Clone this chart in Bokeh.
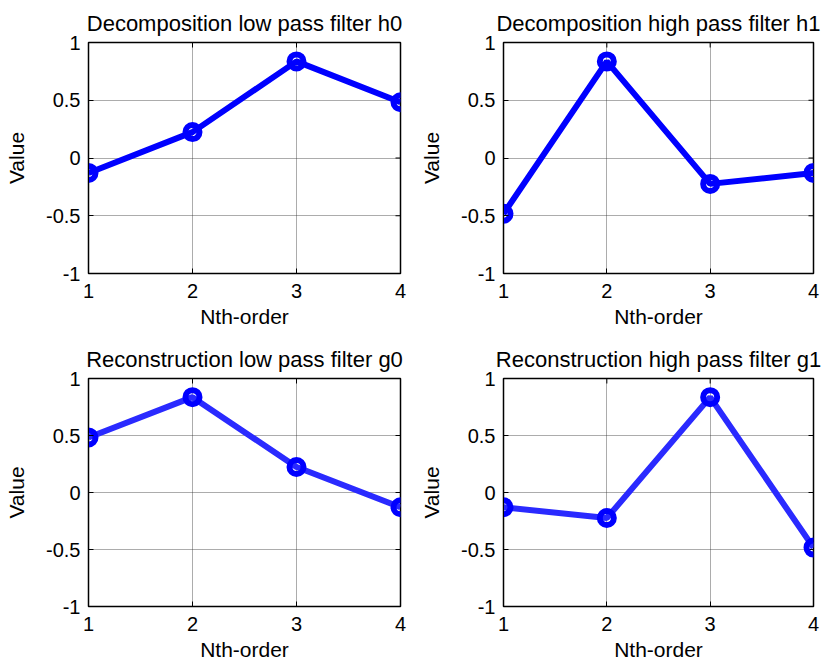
import math
from bokeh.plotting import figure
from bokeh.layouts import column, row
from bokeh.models import FixedTicker, Range1d
from bokeh.embed import file_html
from bokeh.resources import INLINE

# ---- data ----
n_order = [1, 2, 3, 4]
h0 = [-0.1294, 0.2241, 0.8365, 0.4830]
h1 = [-0.4830, 0.8365, -0.2241, -0.1294]
g0 = [0.4830, 0.8365, 0.2241, -0.1294]
g1 = [-0.1294, -0.2241, 0.8365, -0.4830]
titles = ["Decomposition low pass filter h0", "Decomposition high pass filter h1",
          "Reconstruction low pass filter g0", "Reconstruction high pass filter g1"]
x_ticks = [1, 2, 3, 4]
y_ticks = [-1, -0.5, 0, 0.5, 1]
y_tick_labels = {-1: "-1", -0.5: "-0.5", 0: "0", 0.5: "0.5", 1: "1"}
x_label = "Nth-order"
y_label = "Value"

FONT = "Liberation Sans"


def make(title, ys, fw, fh, bl, br, bt, bb, line_color, marker_color):
    x_lo, x_hi = x_ticks[0], x_ticks[-1]
    y_lo, y_hi = y_ticks[0], y_ticks[-1]
    p = figure(frame_width=fw, frame_height=fh, output_backend="svg", toolbar_location=None,
               x_range=Range1d(x_lo, x_hi), y_range=Range1d(y_lo, y_hi),
               min_border_left=bl, min_border_right=br, min_border_top=bt, min_border_bottom=bb,
               background_fill_color="white", border_fill_color="white")
    p.title.text = title
    p.title.align = "center"
    p.title.text_font = FONT
    p.title.text_font_size = "22px"
    p.title.text_font_style = "normal"
    p.title.text_color = "black"
    p.title.standoff = 14
    p.outline_line_color = "black"
    p.outline_line_width = 1.5
    p.outline_line_alpha = 1

    for ax in (p.xaxis[0], p.yaxis[0]):
        ax.major_tick_in = 5
        ax.major_tick_out = 0
        ax.minor_tick_line_color = None
        ax.axis_line_color = "black"
        ax.major_label_text_font = FONT
        ax.major_label_text_font_size = "20px"
        ax.major_label_text_color = "black"
        ax.axis_label_text_font = FONT
        ax.axis_label_text_font_size = "21px"
        ax.axis_label_text_font_style = "normal"
        ax.axis_label_text_color = "black"
    p.xaxis[0].ticker = FixedTicker(ticks=x_ticks)
    p.yaxis[0].ticker = FixedTicker(ticks=y_ticks)
    p.yaxis[0].major_label_overrides = y_tick_labels
    p.xaxis[0].axis_label = x_label
    p.yaxis[0].axis_label = y_label
    p.xaxis[0].major_label_standoff = 10
    p.xaxis[0].axis_label_standoff = 4
    p.yaxis[0].major_label_standoff = 8
    p.yaxis[0].axis_label_standoff = 15

    # inward ticks on the top and right edges of the box
    p.ray(x=x_ticks, y=[y_hi] * len(x_ticks), length=5, length_units="screen",
          angle=-math.pi / 2, line_color="black", line_width=1)
    p.ray(x=[x_hi] * len(y_ticks), y=y_ticks, length=5, length_units="screen",
          angle=math.pi, line_color="black", line_width=1)

    for g in (p.xgrid[0], p.ygrid[0]):
        g.grid_line_color = "#303030"
        g.grid_line_dash = "1 1"
        g.grid_line_width = 1
        g.grid_line_alpha = 0.8
    p.xgrid[0].ticker = FixedTicker(ticks=x_ticks)
    p.ygrid[0].ticker = FixedTicker(ticks=y_ticks)

    p.line(n_order, ys, line_color=line_color, line_width=6)
    p.scatter(n_order, ys, marker="circle", size=14, line_width=6,
              line_color=marker_color, fill_alpha=0)
    return p


p1 = make(titles[0], h0, 312, 231, 88, 11, 42, 64, "#0000ff", "#0000ff")
p2 = make(titles[1], h1, 310, 231, 92, 8, 42, 64, "#0000ff", "#0000ff")
p3 = make(titles[2], g0, 312, 228, 88, 11, 35, 58, "#2a2aff", "#0000ff")
p4 = make(titles[3], g1, 310, 228, 92, 8, 35, 58, "#2a2aff", "#0000ff")

layout = column(row(p1, p2), row(p3, p4))
open("out.html", "w").write(file_html(layout, INLINE))
